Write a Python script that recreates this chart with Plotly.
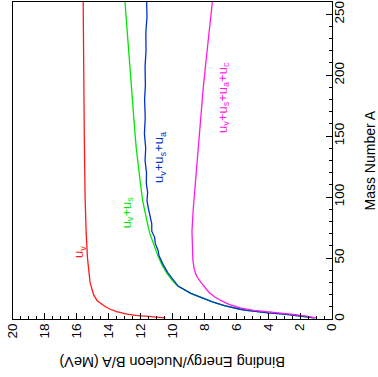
import plotly.graph_objects as go

# Mass number A (vertical axis after rotation) and binding energy per nucleon B/A (MeV)
A_uv = [1, 2, 3, 4, 5, 6, 8, 10, 15, 20, 30, 40, 50, 70, 100, 150, 200, 260]
B_uv = [10.45, 11.6, 12.3, 12.85, 13.2, 13.5, 13.9, 14.2, 14.72, 14.95, 15.17, 15.27,
        15.33, 15.41, 15.48, 15.53, 15.57, 15.6]

A_uvs = [1, 2, 3, 4, 5, 6, 7, 8, 11, 14, 18, 21, 27, 31, 38, 45, 52, 62, 70, 80, 97,
         110, 124, 140, 152, 180, 207, 235, 260]
B_uvs = [1.1, 1.7, 2.3, 3.0, 4.0, 4.8, 5.35, 5.75, 6.75, 7.5, 8.25, 8.85, 9.68, 9.98,
         10.38, 10.68, 10.92, 11.2, 11.42, 11.6, 11.87, 12.0, 12.14, 12.27, 12.35, 12.52,
         12.7, 12.85, 12.98]

A_uvsa = [1, 2, 3, 4, 5, 6, 7, 8, 11, 14, 18, 21, 27, 32, 38, 45, 52, 56, 62, 67, 72,
          78, 84, 90, 97, 104, 111, 120, 130, 140, 152, 165, 180, 192, 207, 220, 235,
          248, 260]
B_uvsa = [1.1, 1.7, 2.3, 3.0, 4.0, 4.8, 5.35, 5.75, 6.75, 7.5, 8.25, 8.85, 9.65, 9.95,
          10.3, 10.6, 10.85, 10.9, 11.08, 11.12, 11.3, 11.3, 11.42, 11.5, 11.6, 11.56,
          11.64, 11.63, 11.72, 11.68, 11.76, 11.71, 11.75, 11.7, 11.72, 11.66, 11.67,
          11.6, 11.62]

A_uvsac = [1, 2, 3, 4, 5, 6, 7, 9, 12, 15, 18, 22, 26, 30, 33, 37, 42, 48, 60, 72, 90,
           111, 140, 165, 190, 220, 260]
B_uvsac = [1.0, 1.4, 1.9, 2.6, 3.5, 4.3, 4.9, 5.7, 6.45, 6.95, 7.35, 7.72, 8.0, 8.22,
           8.38, 8.55, 8.65, 8.72, 8.75, 8.78, 8.7, 8.57, 8.4, 8.25, 8.07, 7.83, 7.5]

x_ticks = [20, 18, 16, 14, 12, 10, 8, 6, 4, 2, 0]
y_ticks = [0, 50, 100, 150, 200, 250]

FONT = "Liberation Sans, Arial, sans-serif"

series = [
    (A_uv, B_uv, "#ff1a1a"),
    (A_uvs, B_uvs, "#00e600"),
    (A_uvsa, B_uvsa, "#0033cc"),
    (A_uvsac, B_uvsac, "#ff1ae6"),
]

fig = go.Figure()
for a, b, c in series:
    fig.add_trace(go.Scatter(x=b, y=a, mode="lines", line=dict(color=c, width=1.3),
                             showlegend=False, hoverinfo="skip"))

# curve labels (rotated, reading upward)
labels = [
    (15.8, 55, "#ff1a1a", "u<sub>v</sub>"),
    (12.85, 87.5, "#00e600", "u<sub>v</sub>+u<sub>s</sub>"),
    (10.77, 133, "#0033cc", "u<sub>v</sub>+u<sub>s</sub>+u<sub>a</sub>"),
    (6.82, 181.5, "#ff1ae6", "u<sub>v</sub>+u<sub>s</sub>+u<sub>a</sub>+u<sub>c</sub>"),
]
for bx, ay, c, t in labels:
    fig.add_annotation(x=bx, y=ay, xref="x", yref="y", text=t, showarrow=False,
                       textangle=-90, font=dict(color=c, size=13, family=FONT))

# axis titles
fig.add_annotation(x=0.5, y=-0.135, xref="paper", yref="paper",
                   text="Binding Energy/Nucleon B/A (MeV)", showarrow=False,
                   textangle=180, xanchor="center", yanchor="middle",
                   font=dict(size=14.5, color="black", family=FONT))
fig.add_annotation(x=1.116, y=0.5, xref="paper", yref="paper",
                   text="Mass Number A", showarrow=False,
                   textangle=-90, xanchor="center", yanchor="middle",
                   font=dict(size=14, color="black", family=FONT))

fig.update_layout(
    width=378, height=377,
    margin=dict(l=13, r=46, t=2, b=58, pad=0),
    paper_bgcolor="white", plot_bgcolor="white",
    font=dict(family=FONT, color="black"),
    xaxis=dict(range=[20, 0], tickvals=x_ticks, ticks="inside", ticklen=6, tickwidth=1,
               tickcolor="black", tickangle=-90, tickfont=dict(size=13.5),
               ticklabelstandoff=-2,
               showline=True, linecolor="black", linewidth=1, mirror=True,
               showgrid=False, zeroline=False,
               minor=dict(ticks="inside", ticklen=3, dtick=0.5, tickcolor="black",
                          showgrid=False)),
    yaxis=dict(range=[0, 260], tickvals=y_ticks, side="right", ticks="inside",
               ticklen=6, tickwidth=1, tickcolor="black", tickangle=-90,
               tickfont=dict(size=13.5), ticklabelstandoff=-5,
               showline=True, linecolor="black", linewidth=1, mirror=True,
               showgrid=False, zeroline=False,
               minor=dict(ticks="inside", ticklen=3, dtick=10, tickcolor="black",
                          showgrid=False)),
)

fig.write_html("out.html", config={"displayModeBar": False},
               post_script="document.body.style.margin='0px';"
                           "document.body.style.overflow='hidden';")
